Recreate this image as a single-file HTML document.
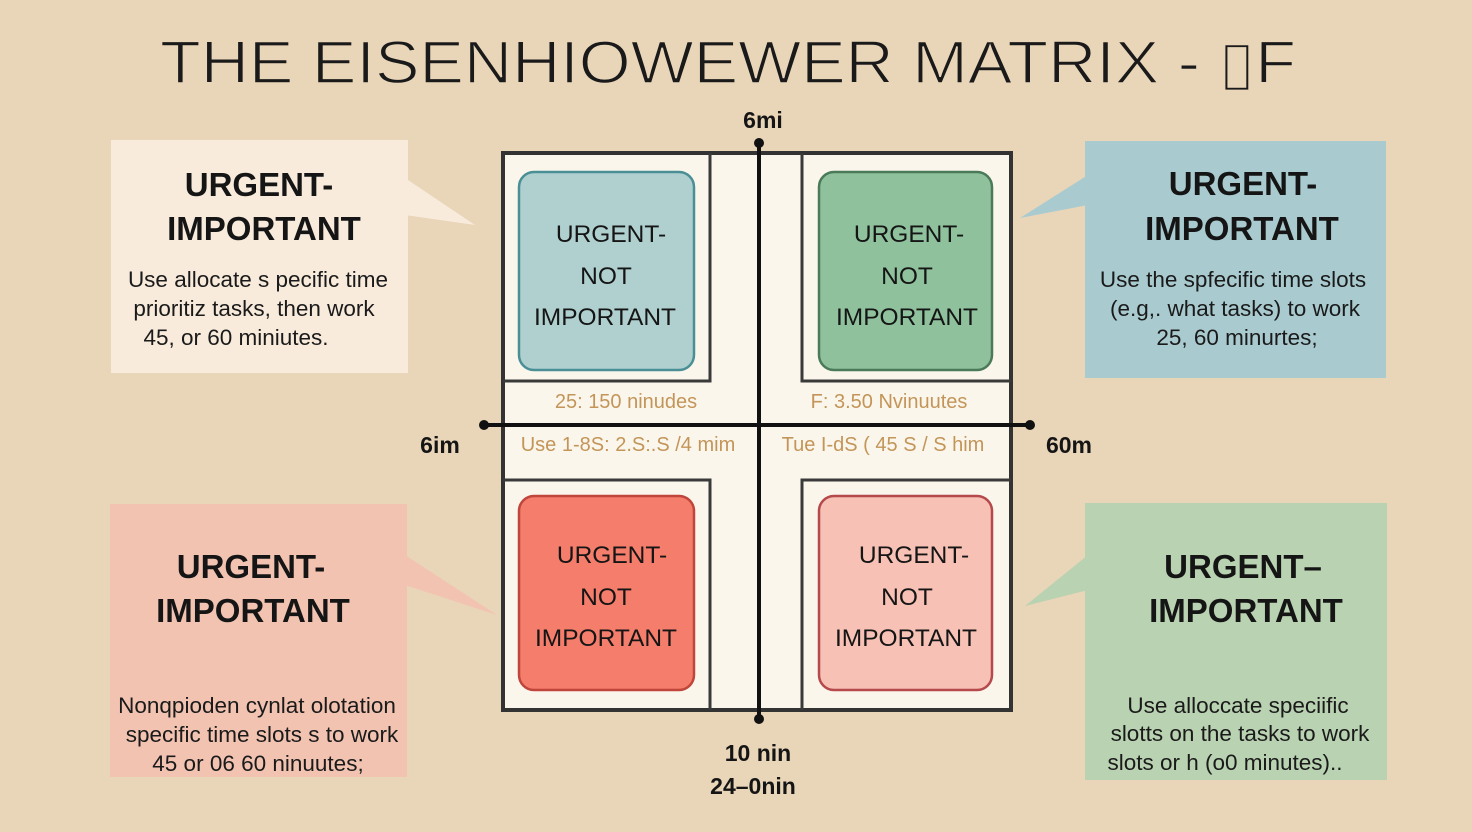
<!DOCTYPE html>
<html><head><meta charset="utf-8"><style>
html,body{margin:0;padding:0;background:#e9d5b8;}
svg{display:block}
text{font-family:"Liberation Sans",sans-serif;}
</style></head><body>
<svg width="1472" height="832" viewBox="0 0 1472 832" xmlns="http://www.w3.org/2000/svg">
<rect width="1472" height="832" fill="#e9d5b8"/>
<text x="160" y="83" font-size="60" fill="#1a1a1a" stroke="#e9d5b8" stroke-width="1.5" paint-order="normal" textLength="1136" lengthAdjust="spacingAndGlyphs">THE EISENHIOWEWER MATRIX  -  ▯F</text>

<!-- callouts -->
<g>
<polygon points="405,178 475,225 405,215" fill="#f8ebdc"/>
<rect x="111" y="140" width="297" height="233" fill="#f8ebdc"/>
<polygon points="1088,175 1020,218 1088,205" fill="#a9cbd0"/>
<rect x="1085" y="141" width="301" height="237" fill="#a9cbd0"/>
<polygon points="405,555 497,615 405,585" fill="#f2c3b1"/>
<rect x="110" y="504" width="297" height="273" fill="#f2c3b1"/>
<polygon points="1088,555 1025,606 1088,590" fill="#b9d2b1"/>
<rect x="1085" y="503" width="302" height="277" fill="#b9d2b1"/>
</g>
<g font-weight="bold" font-size="33" fill="#151515" text-anchor="middle">
<text x="259" y="196">URGENT-</text><text x="264" y="240">IMPORTANT</text>
<text x="1243" y="195">URGENT-</text><text x="1242" y="240">IMPORTANT</text>
<text x="251" y="578">URGENT-</text><text x="253" y="622">IMPORTANT</text>
<text x="1243" y="578">URGENT–</text><text x="1246" y="622">IMPORTANT</text>
</g>
<g font-size="22.5" fill="#1a1a1a" text-anchor="middle">
<text x="258" y="287">Use allocate s pecific time</text>
<text x="254" y="316">prioritiz tasks, then work</text>
<text x="236" y="345">45, or 60 miniutes.</text>
<text x="1233" y="287">Use the spfecific time slots</text>
<text x="1235" y="316">(e.g,. what tasks) to work</text>
<text x="1237" y="345">25, 60 minurtes;</text>
<text x="257" y="713">Nonqpioden cynlat olotation</text>
<text x="262" y="742">specific time slots s to work</text>
<text x="258" y="771">45 or 06 60 ninuutes;</text>
<text x="1238" y="713">Use alloccate speciific</text>
<text x="1240" y="741">slotts on the tasks to work</text>
<text x="1225" y="770">slots or h (o0 minutes)..</text>
</g>

<!-- matrix -->
<rect x="503" y="153" width="508" height="557" fill="#fbf6ec" stroke="#333" stroke-width="4"/>
<g fill="none" stroke="#3a3a3a" stroke-width="3">
<polyline points="503,381 710,381 710,153"/>
<polyline points="802,153 802,381 1011,381"/>
<polyline points="503,480 710,480 710,710"/>
<polyline points="802,710 802,480 1011,480"/>
</g>
<rect x="519" y="172" width="175" height="198" rx="15" fill="#b0d0d0" stroke="#4a8f96" stroke-width="2.5"/>
<rect x="819" y="172" width="173" height="198" rx="15" fill="#8fc19d" stroke="#4b7a59" stroke-width="2.5"/>
<rect x="519" y="496" width="175" height="194" rx="15" fill="#f47d6b" stroke="#c0453a" stroke-width="2.5"/>
<rect x="819" y="496" width="173" height="194" rx="15" fill="#f7c1b5" stroke="#b5494b" stroke-width="2.5"/>
<g font-size="24.5" fill="#151515" text-anchor="middle">
<text x="611" y="242">URGENT-</text><text x="606" y="284">NOT</text><text x="605" y="325">IMPORTANT</text>
<text x="909" y="242">URGENT-</text><text x="907" y="284">NOT</text><text x="907" y="325">IMPORTANT</text>
<text x="612" y="563">URGENT-</text><text x="606" y="605">NOT</text><text x="606" y="646">IMPORTANT</text>
<text x="914" y="563">URGENT-</text><text x="907" y="605">NOT</text><text x="906" y="646">IMPORTANT</text>
</g>
<g font-size="20" fill="#c39558" text-anchor="middle">
<text x="626" y="408">25: 150 ninudes</text>
<text x="889" y="408">F: 3.50 Nvinuutes</text>
<text x="628" y="451">Use 1-8S: 2.S:.S /4 mim</text>
<text x="883" y="451">Tue I-dS ( 45 S / S him</text>
</g>
<g stroke="#111" stroke-width="4">
<line x1="759" y1="143" x2="759" y2="719"/>
<line x1="484" y1="425" x2="1030" y2="425"/>
</g>
<g fill="#111">
<circle cx="759" cy="143" r="5"/><circle cx="759" cy="719" r="5"/>
<circle cx="484" cy="425" r="5"/><circle cx="1030" cy="425" r="5"/>
</g>
<g font-size="23" font-weight="bold" fill="#151515" text-anchor="middle">
<text x="763" y="128">6mi</text>
<text x="440" y="453">6im</text>
<text x="1069" y="453">60m</text>
<text x="758" y="761">10 nin</text>
<text x="753" y="794">24–0nin</text>
</g>
</svg>
</body></html>
